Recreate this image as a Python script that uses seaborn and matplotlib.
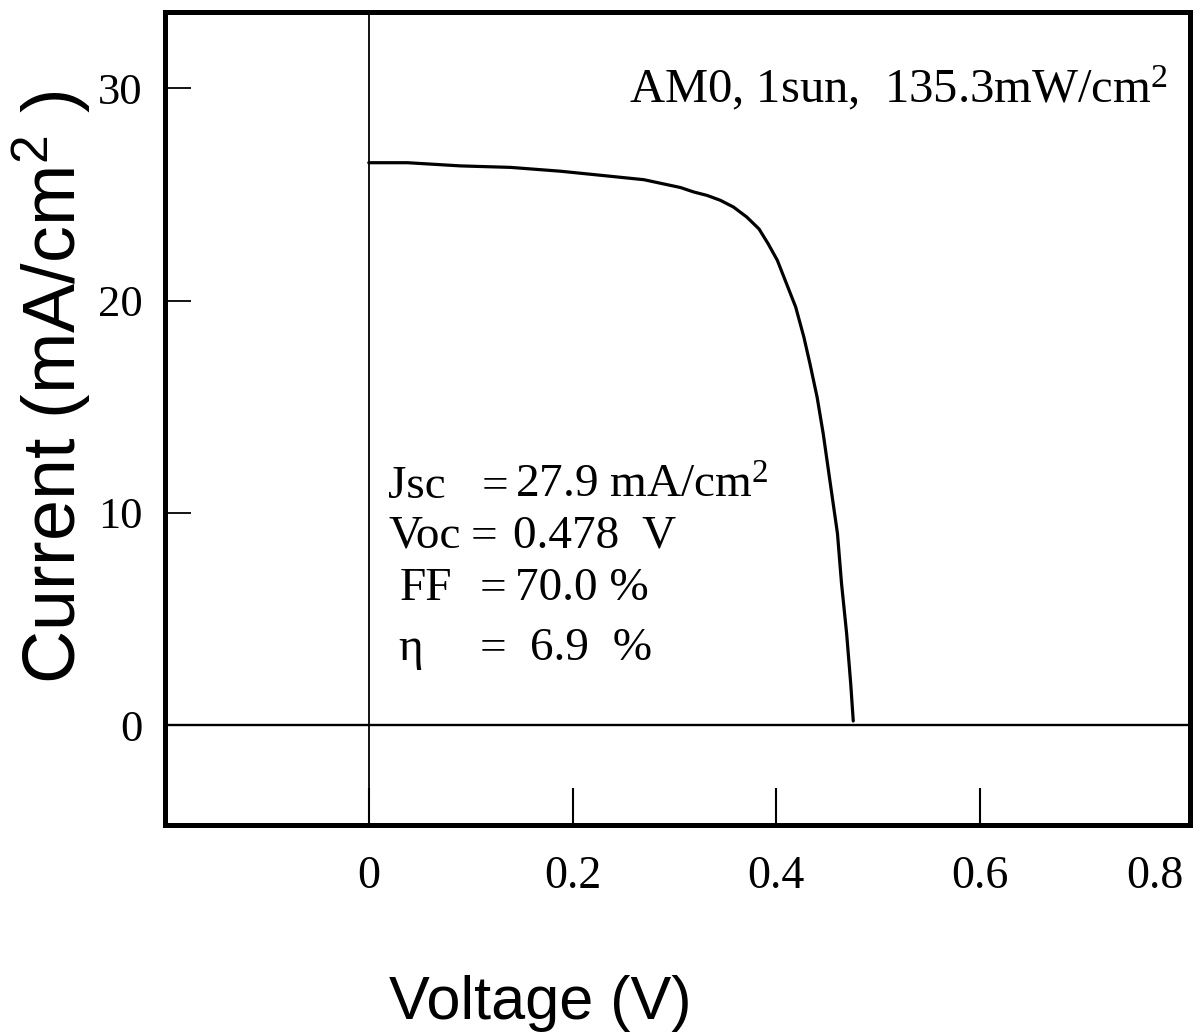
import matplotlib
matplotlib.use("Agg")
import matplotlib.pyplot as plt
import seaborn as sns
import numpy as np
import pandas as pd

# ---- data ----
voltage = [0.000, 0.038, 0.090, 0.139, 0.188, 0.221, 0.270, 0.306, 0.319, 0.332,
           0.345, 0.358, 0.371, 0.383, 0.392, 0.401, 0.410, 0.419, 0.427, 0.433,
           0.440, 0.446, 0.453, 0.460, 0.464, 0.469, 0.473, 0.4755]
current = [26.50, 26.50, 26.35, 26.28, 26.10, 25.94, 25.70, 25.33, 25.12, 24.96,
           24.73, 24.41, 23.94, 23.38, 22.68, 21.90, 20.80, 19.70, 18.29, 17.03,
           15.46, 13.74, 11.38, 9.03, 6.67, 4.32, 1.96, 0.20]
x_ticks = [0, 0.2, 0.4, 0.6, 0.8]
x_tick_labels = ["0", "0.2", "0.4", "0.6", "0.8"]
y_ticks = [0, 10, 20, 30]
y_tick_labels = ["0", "10", "20", "30"]
cond_text = "AM0, 1sun,  135.3mW/cm$\\mathregular{^2}$"
param_names = ["Jsc", "Voc", "FF", "\u03b7"]
param_values = ["27.9 mA/cm$\\mathregular{^2}$", "0.478  V", "70.0 %", "6.9  %"]

df = pd.DataFrame({"Voltage": voltage, "Current": current})

sns.set_theme(style="white")
plt.rcParams["font.family"] = ["Liberation Serif", "DejaVu Serif"]
plt.rcParams["text.color"] = "black"
plt.rcParams["axes.labelcolor"] = "black"
plt.rcParams["xtick.color"] = "black"
plt.rcParams["ytick.color"] = "black"

W, H = 1203, 1036
fig = plt.figure(figsize=(W / 100, H / 100), dpi=100)
L, R, T, B = 165, 1190, 12, 825
ax = fig.add_axes([L / W, 1 - B / H, (R - L) / W, (B - T) / H])

ax.axhline(0, color="black", lw=1.7, zorder=1)
ax.axvline(0, color="black", lw=1.3, zorder=1)
sns.lineplot(data=df, x="Voltage", y="Current", ax=ax, color="black", lw=2.3,
             sort=False, estimator=None, zorder=3)

ax.set_xlim(-0.2, 0.806)
ax.set_ylim(-4.7, 33.6)

ax.set_xticks(x_ticks)
ax.set_xticklabels(x_tick_labels, fontsize=33, family=["Liberation Serif"])
ax.set_yticks(y_ticks)
ax.set_yticklabels(y_tick_labels, fontsize=32, family=["Liberation Serif"])
ax.tick_params(axis="x", which="major", bottom=True, top=False, direction="in",
               length=27, width=1.5, pad=22, colors="black")
ax.tick_params(axis="y", which="major", left=True, right=False, direction="in",
               length=19, width=1.3, pad=16, colors="black")
ax.get_xticklabels()[-1].set_ha("right")
ax.xaxis.get_major_ticks()[-1].tick1line.set_visible(False)

for s in ax.spines.values():
    s.set_visible(True)
    s.set_color("black")
    s.set_linewidth(3.6)
ax.grid(False)

ax.set_xlabel("Voltage (V)", fontsize=44, family=["Liberation Sans"], va="center",
              color="black")
ax.xaxis.set_label_coords((540 - L) / (R - L), (B - 1003) / (B - T))
ax.set_ylabel("Current (mA/cm$\\mathregular{^2}$ )", fontsize=53,
              family=["Liberation Sans"], va="center", color="black")
ax.yaxis.set_label_coords((52 - L) / (R - L), (B - 387) / (B - T))


def fx(px):
    return px / W


def fy(py):
    return 1 - py / H


fig.text(fx(1168), fy(102), cond_text, fontsize=35, ha="right", va="baseline",
         family=["Liberation Serif"], color="black")

name_x = [388, 388, 400, 398]
eq_x = [482, 471, 480, 480]
val_x = [515, 513, 515, 530]
base_y = [498, 548, 600, 660]
for n, v, nx, ex, vx, by in zip(param_names, param_values, name_x, eq_x, val_x, base_y):
    fig.text(fx(nx), fy(by), n, fontsize=34, ha="left", va="baseline",
             family=["Liberation Serif"], color="black")
    fig.text(fx(ex), fy(by), "=", fontsize=34, ha="left", va="baseline",
             family=["Liberation Serif"], color="black")
    fig.text(fx(vx), fy(by), v, fontsize=34, ha="left", va="baseline",
             family=["Liberation Serif"], color="black")

fig.savefig("out.png", dpi=100, facecolor="white")
